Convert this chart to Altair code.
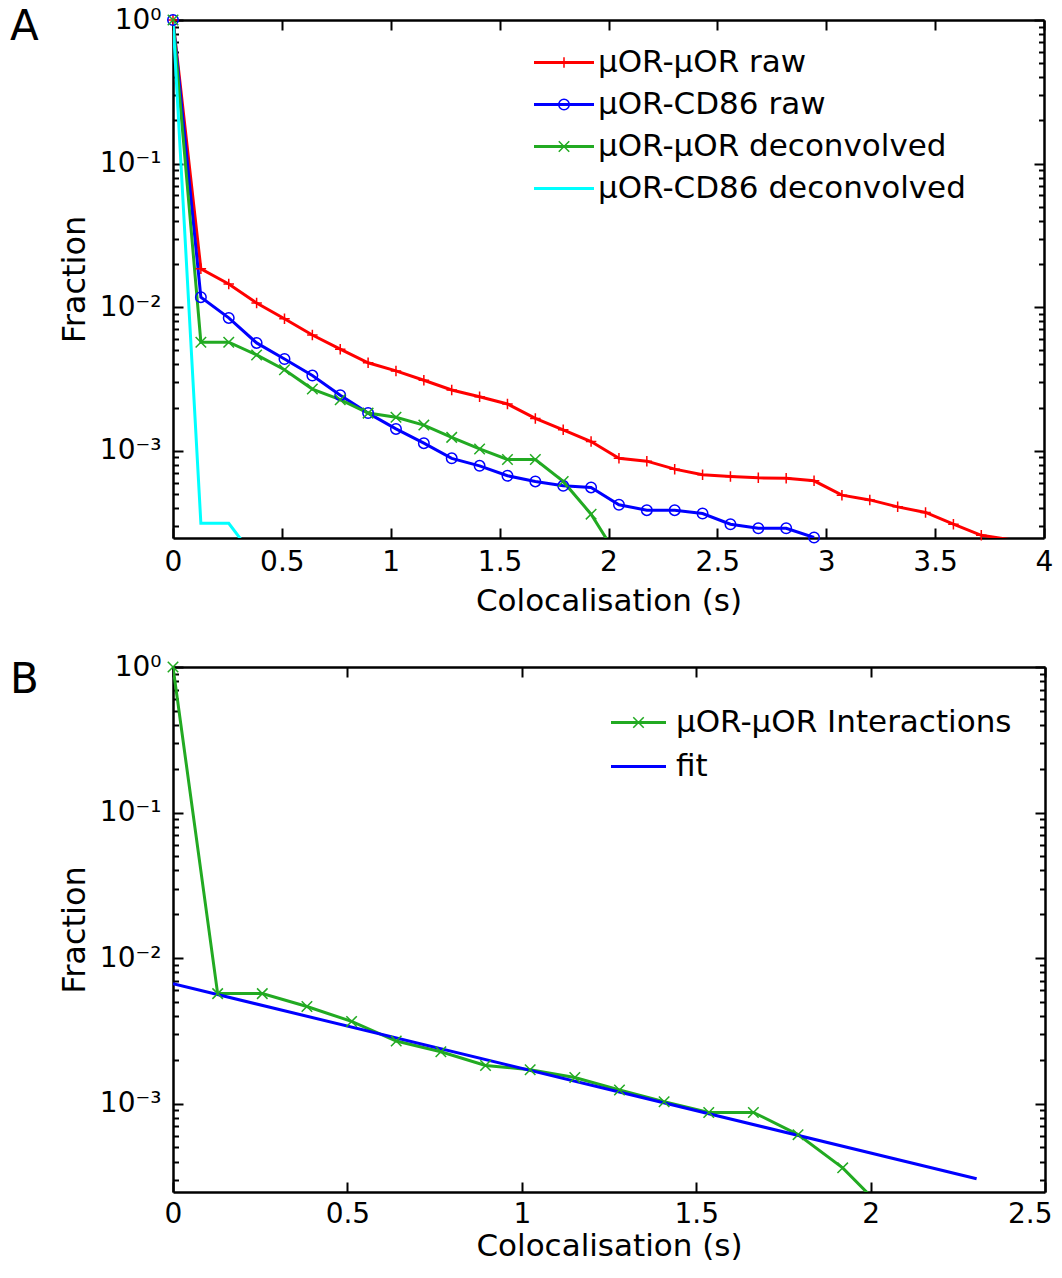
import altair as alt
import pandas as pd

FONT = "DejaVu Sans"

# ---------------- data ----------------
t = [0.000, 0.128, 0.256, 0.384, 0.512, 0.640, 0.768, 0.896, 1.024, 1.152,
     1.280, 1.408, 1.536, 1.664, 1.792, 1.920, 2.048, 2.176, 2.304, 2.432,
     2.560, 2.688, 2.816, 2.944, 3.072, 3.200, 3.328, 3.456, 3.584, 3.712, 3.840]

raw_oo = [1.0, 0.0185, 0.0145, 0.0107, 0.0083, 0.0064, 0.0051, 0.0041, 0.0036, 0.0031,
          0.00265, 0.00238, 0.00212, 0.00168, 0.00140, 0.00116, 0.000886, 0.000847, 0.000745, 0.000680,
          0.000663, 0.000648, 0.000645, 0.000618, 0.000491, 0.000455, 0.000407, 0.000372, 0.000308,
          0.000258, 0.000241]
raw_cd = [1.0, 0.01175, 0.00842, 0.00564, 0.00436, 0.00334, 0.00244, 0.00183, 0.00142, 0.00113,
          0.000886, 0.000786, 0.00067, 0.000612, 0.000570, 0.000556, 0.000421, 0.000386, 0.000386,
          0.000366, 0.000308, 0.000289, 0.000289, 0.000249]
dec_oo = [1.0, 0.0057, 0.0057, 0.00465, 0.00367, 0.00269, 0.00227, 0.00183, 0.00171, 0.00151,
          0.00124, 0.00103, 0.00087, 0.00087, 0.000612, 0.000362, 0.000177]
dec_cd = [1.0, 0.000313, 0.000313, 0.000173]

fit_t = [0.0, 2.304]
fit_v = [0.00666, 0.000305]

series_A = ["μOR-μOR raw", "μOR-CD86 raw", "μOR-μOR deconvolved", "μOR-CD86 deconvolved"]
colors_A = ["#ff0000", "#0000ff", "#22aa22", "#00ffff"]
markers_A = ["mA0", "mA1", "mA2"]
shapes_A = ["M-1,0H1M0,-1V1", "circle", "M-1,-1L1,1M-1,1L1,-1"]

series_B = ["μOR-μOR Interactions", "fit"]
colors_B = ["#22aa22", "#0000ff"]
markers_B = ["mB0"]
shapes_B = ["M-1,-1L1,1M-1,1L1,-1"]

x_ticks_A = [0, 0.5, 1, 1.5, 2, 2.5, 3, 3.5, 4]
x_ticks_B = [0, 0.5, 1, 1.5, 2, 2.5]
y_major = [1e-3, 1e-2, 1e-1, 1.0]
y_ticks = [3e-4, 4e-4, 5e-4, 6e-4, 7e-4, 8e-4, 9e-4,
           1e-3, 2e-3, 3e-3, 4e-3, 5e-3, 6e-3, 7e-3, 8e-3, 9e-3,
           1e-2, 2e-2, 3e-2, 4e-2, 5e-2, 6e-2, 7e-2, 8e-2, 9e-2,
           1e-1, 2e-1, 3e-1, 4e-1, 5e-1, 6e-1, 7e-1, 8e-1, 9e-1, 1.0]

YMIN = 2.47e-4


def rows(name, xs, ys, mk):
    return [{"series": name, "t": x, "v": y, "i": k, "mk": mk}
            for k, (x, y) in enumerate(zip(xs, ys))]


df_A = pd.DataFrame(rows(series_A[0], t, raw_oo, "mA0") + rows(series_A[1], t, raw_cd, "mA1")
                    + rows(series_A[2], t, dec_oo, "mA2") + rows(series_A[3], t, dec_cd, None))
df_B = pd.DataFrame(rows(series_B[0], t, dec_oo, "mB0") + rows(series_B[1], fit_t, fit_v, None))

# ---------------- helpers ----------------
MAJOR = "abs(log(datum.value)/LN10 - round(log(datum.value)/LN10)) < 0.01"
SUP = ("'10' + (round(log(datum.value)/LN10) == 0 ? '⁰' : round(log(datum.value)/LN10) == -1 ? '⁻¹' : "
       "round(log(datum.value)/LN10) == -2 ? '⁻²' : '⁻³')")


def x_label_axis(vals, shift_last, lab_pad, title_pad):
    test = f"datum.value == {vals[-1]}" if shift_last else "false"
    return alt.Axis(orient="bottom", values=vals, format=".1~f", labelFlush=False, labelOverlap=False,
                    labelAlign={"condition": {"test": test, "value": "right"}, "value": "center"},
                    labelOffset={"condition": {"test": test, "value": 7}, "value": 0},
                    ticks=False, tickSize=0, domain=False, grid=False, labelFont=FONT, labelFontSize=28,
                    labelColor="black", labelPadding=lab_pad, title="Colocalisation (s)", titleFont=FONT,
                    titleFontSize=31, titleFontWeight="normal", titleColor="black", titlePadding=title_pad)


def y_label_axis():
    return alt.Axis(orient="left", values=y_major, labelExpr=SUP, labelOverlap=False, labelFlush=False,
                    ticks=False, tickSize=0, domain=False, grid=False, labelFont=FONT, labelFontSize=28,
                    labelColor="black", labelPadding=12, labelBaseline="middle", title="Fraction",
                    titleFont=FONT, titleFontSize=32, titleFontWeight="normal", titleColor="black",
                    titlePadding=8)


def x_tick_axis(orient, offset, vals):
    return alt.Axis(orient=orient, offset=offset, values=vals, labels=False, grid=False, title=None,
                    domain=True, domainColor="black", domainWidth=2.5, ticks=True, tickColor="black",
                    tickWidth=2, tickSize=10)


def y_tick_axis(orient, offset):
    return alt.Axis(orient=orient, offset=offset, values=y_ticks, labels=False, grid=False, title=None,
                    domain=True, domainColor="black", domainWidth=2.5, ticks=True, tickColor="black",
                    tickWidth=2, tickSize={"condition": {"test": MAJOR, "value": 10}, "value": 5.5})


def line_legend(x, y, path, row_pad, lab_off):
    return alt.Legend(orient="none", legendX=x, legendY=y, title=None, symbolType=path, symbolSize=400,
                      symbolStrokeWidth=3, labelFont=FONT, labelFontSize=31, labelColor="black",
                      labelOffset=lab_off, rowPadding=row_pad, padding=0, labelLimit=600)


def marker_legend(x, y, row_pad):
    return alt.Legend(orient="none", legendX=x, legendY=y, title=None, symbolSize=110,
                      symbolStrokeWidth=1.5, labelExpr="''", labelFont=FONT, labelFontSize=31,
                      rowPadding=row_pad, padding=0)


def panel(df, W, H, xdom, xt, xaxis_opts, series, colors, markers, shapes, letter, title_dy, leg):
    lx, ly, path, row_pad, lab_off = leg
    shift_last, lab_pad, title_pad = xaxis_opts
    xs = alt.Scale(domain=xdom, nice=False, zero=False)
    ys = alt.Scale(type="log", domain=[YMIN, 1.0], nice=False)
    base = alt.Chart(df)
    lines = base.mark_line(clip=True, strokeWidth=3).encode(
        x=alt.X("t:Q", scale=xs, axis=x_label_axis(xt, shift_last, lab_pad, title_pad)),
        y=alt.Y("v:Q", scale=ys, axis=y_label_axis()),
        color=alt.Color("series:N", scale=alt.Scale(domain=series, range=colors),
                        legend=line_legend(lx, ly, path, row_pad, lab_off)),
        order="i:Q",
    )
    mleg = marker_legend(lx, ly, row_pad)
    pts = base.transform_filter(f"isValid(datum.mk) && datum.v >= {YMIN}").mark_point(
        filled=False, size=110, strokeWidth=1.5, opacity=1).encode(
        x=alt.X("t:Q", scale=xs, axis=x_tick_axis("top", -H, xt)),
        y=alt.Y("v:Q", scale=ys, axis=y_tick_axis("right", -W)),
        stroke=alt.Stroke("mk:N", scale=alt.Scale(domain=markers, range=colors[:len(markers)]), legend=mleg),
        shape=alt.Shape("mk:N", scale=alt.Scale(domain=markers, range=shapes), legend=mleg),
    )
    ghost = base.mark_point(opacity=0).encode(
        x=alt.X("t:Q", scale=xs, axis=x_tick_axis("bottom", -H, xt)),
        y=alt.Y("v:Q", scale=ys, axis=y_tick_axis("left", -W)),
    )
    return alt.layer(lines, pts, ghost).resolve_axis(x="independent", y="independent").properties(
        width=W, height=H,
        title=alt.TitleParams(text=letter, anchor="start", frame="group", fontSize=42, font=FONT,
                              fontWeight="normal", color="black", dx=-163, dy=title_dy, offset=0),
    )


pA = panel(df_A, 871, 518, [0, 4], x_ticks_A, (False, 10, 10), series_A, colors_A, markers_A, shapes_A,
           "A", 43, (375.5, 27, "M-3,0H3", 10, 18.5))
pB = panel(df_B, 872, 525, [0, 2.5], x_ticks_B, (True, 8, 3), series_B, colors_B, markers_B, shapes_B,
           "B", 49, (450, 40, "M-2.75,0H2.75", 12, 22))

chart = alt.vconcat(pA, pB, spacing=37).resolve_scale(
    color="independent", stroke="independent", shape="independent"
).properties(
    padding={"left": 10, "top": 6, "right": 3, "bottom": 0}, background="white"
).configure_view(stroke=None)

chart.save("out.html", embed_options={"renderer": "svg", "actions": False})
